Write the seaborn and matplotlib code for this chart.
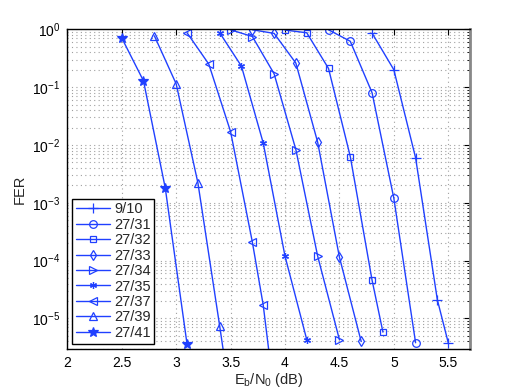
import numpy as np
import pandas as pd
import seaborn as sns
import matplotlib
matplotlib.use("Agg")
import matplotlib.pyplot as plt
from matplotlib.ticker import LogLocator, NullFormatter, MultipleLocator, FormatStrFormatter

# FER curves (Eb/N0 in dB)
rates = ["9/10", "27/31", "27/32", "27/33", "27/34", "27/35", "27/37", "27/39", "27/41"]

ebn0_9_10 = [4.8, 5.0, 5.2, 5.4, 5.5]
fer_9_10 = [0.86, 0.2, 6e-3, 2.1e-5, 3.8e-6]

ebn0_27_31 = [4.4, 4.6, 4.8, 5.0, 5.2]
fer_27_31 = [0.98, 0.62, 0.08, 1.2e-3, 3.8e-6]

ebn0_27_32 = [4.0, 4.2, 4.4, 4.6, 4.8, 4.9]
fer_27_32 = [0.97, 0.87, 0.21, 6.3e-3, 4.6e-5, 5.8e-6]

ebn0_27_33 = [3.7, 3.9, 4.1, 4.3, 4.5, 4.7]
fer_27_33 = [0.98, 0.85, 0.26, 0.0112, 1.15e-4, 4e-6]

ebn0_27_34 = [3.5, 3.7, 3.9, 4.1, 4.3, 4.5]
fer_27_34 = [0.98, 0.75, 0.17, 8.3e-3, 1.2e-4, 4.3e-6]

ebn0_27_35 = [3.4, 3.6, 3.8, 4.0, 4.2]
fer_27_35 = [0.87, 0.23, 0.0108, 1.2e-4, 4.3e-6]

ebn0_27_37 = [3.1, 3.3, 3.5, 3.7, 3.8, 3.9]
fer_27_37 = [0.87, 0.25, 0.017, 2.1e-4, 1.7e-5, 5e-7]

ebn0_27_39 = [2.8, 3.0, 3.2, 3.4, 3.6]
fer_27_39 = [0.77, 0.114, 2.2e-3, 7.4e-6, 2e-8]

ebn0_27_41 = [2.5, 2.7, 2.9, 3.1]
fer_27_41 = [0.71, 0.128, 1.8e-3, 3.6e-6]

xs = [ebn0_9_10, ebn0_27_31, ebn0_27_32, ebn0_27_33, ebn0_27_34,
      ebn0_27_35, ebn0_27_37, ebn0_27_39, ebn0_27_41]
ys = [fer_9_10, fer_27_31, fer_27_32, fer_27_33, fer_27_34,
      fer_27_35, fer_27_37, fer_27_39, fer_27_41]

markers = ["+", "o", "s", "d", ">", (6, 2, 0), "<", "^", "*"]
filled = [True, False, False, False, False, True, False, False, True]
msizes = [6.5, 5.5, 5, 5.5, 5.5, 5, 5.5, 6, 7]

sns.set_style("white")
plt.rcParams["font.family"] = ["Liberation Sans", "DejaVu Sans"]
plt.rcParams["mathtext.fontset"] = "custom"
plt.rcParams["mathtext.rm"] = "Liberation Sans"
plt.rcParams["mathtext.it"] = "Liberation Sans"

blue = "#2040ff"

fig = plt.figure(figsize=(5.19, 3.92), dpi=100)
ax = fig.add_axes([0.1297, 0.1105, 0.7759, 0.8148])

for i, r in enumerate(rates):
    df = pd.DataFrame({"ebn0": xs[i], "fer": ys[i]})
    kw = dict(marker=markers[i], markersize=msizes[i], color=blue, linewidth=1.0,
              markeredgecolor=blue, markeredgewidth=0.9)
    kw["markerfacecolor"] = blue if filled[i] else "none"
    sns.lineplot(data=df, x="ebn0", y="fer", ax=ax, label=r, estimator=None, **kw)

ax.set_yscale("log")
ax.set_xlim(2, 5.7)
ax.set_ylim(3e-6, 1)
ax.xaxis.set_major_locator(MultipleLocator(0.5))
ax.xaxis.set_major_formatter(FormatStrFormatter("%g"))
ax.yaxis.set_major_locator(LogLocator(base=10, numticks=10))
ax.yaxis.set_minor_locator(LogLocator(base=10, subs=np.arange(2, 10), numticks=20))
ax.yaxis.set_minor_formatter(NullFormatter())

grid_kw = dict(color="#a0a0a0", linestyle=(0, (1, 3)), linewidth=0.8)
ax.grid(True, which="major", axis="both", **grid_kw)
ax.grid(True, which="minor", axis="y", **grid_kw)
ax.set_axisbelow(True)

ax.tick_params(axis="both", which="both", direction="in", top=True, right=True,
               labelsize=10, colors="black", pad=5)
ax.tick_params(which="major", length=4, width=0.8)
ax.tick_params(which="minor", length=2, width=0.6)
for s in ["left", "bottom", "top"]:
    ax.spines[s].set_color("black")
    ax.spines[s].set_linewidth(1.0)
ax.spines["right"].set_color("#888888")
ax.spines["right"].set_linewidth(2.0)

ax.set_xlabel("E$_\\mathregular{b}$/N$_\\mathregular{0}$ (dB)", fontsize=10.5, labelpad=1)
ax.set_ylabel("FER", fontsize=10.5, labelpad=4)

leg = ax.legend(loc="lower left", fontsize=10.5, frameon=True, fancybox=False,
                framealpha=1, edgecolor="black", handlelength=2.3,
                borderaxespad=0.35, labelspacing=0.1, handletextpad=0.3,
                borderpad=0.25)
leg.get_frame().set_linewidth(1.0)

fig.savefig("out.png", dpi=100)
